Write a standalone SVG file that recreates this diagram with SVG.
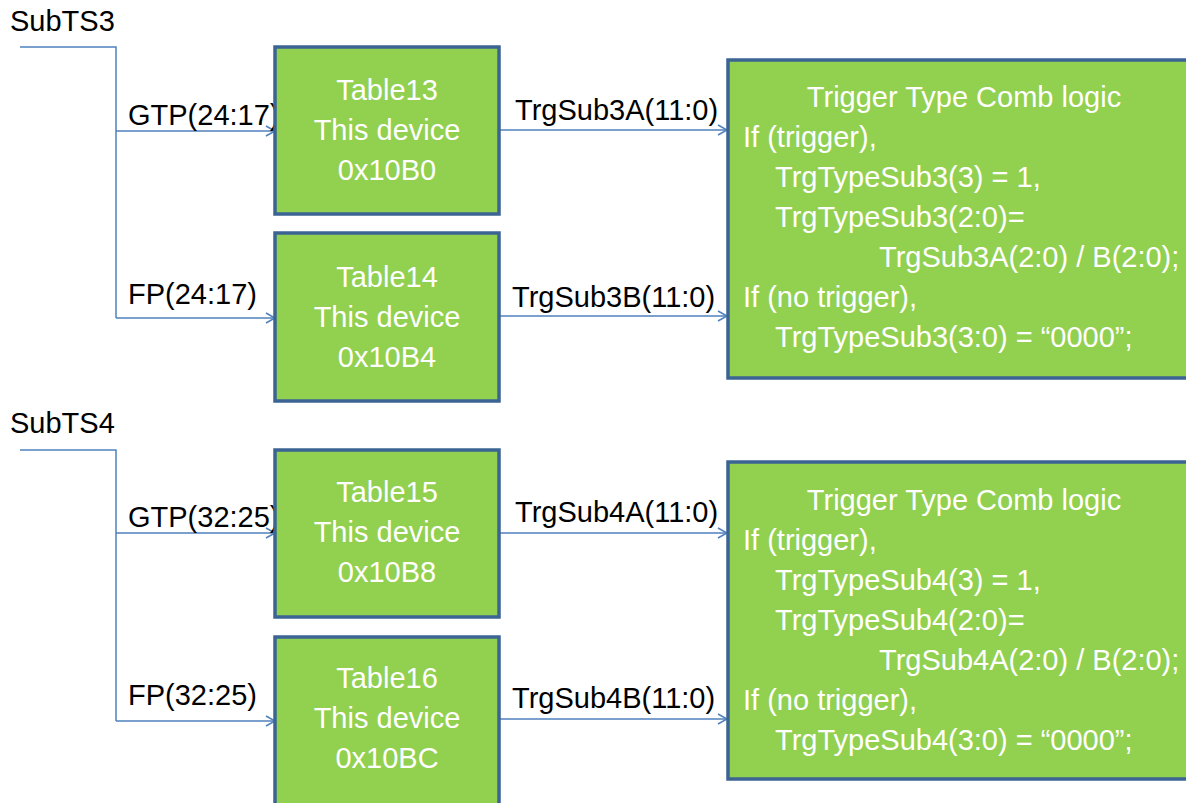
<svg xmlns="http://www.w3.org/2000/svg" width="1186" height="803" viewBox="0 0 1186 803">
<style>
text{font-family:"Liberation Sans",Arial,sans-serif;font-size:29px}
.lbl{fill:#000}
.w{fill:#fff}
.c{text-anchor:middle}
.box{fill:#92D050;stroke:#3B6494;stroke-width:3.5}
.wire{fill:none;stroke:#4F81BD;stroke-width:1.5}
</style>
<defs>
<marker id="ah" markerWidth="12" markerHeight="12" refX="10" refY="6" orient="auto" markerUnits="userSpaceOnUse">
<path d="M1,1 L10,6 L1,11" fill="none" stroke="#4F81BD" stroke-width="1.5"/>
</marker>
</defs>
<rect width="1186" height="803" fill="#fff"/>
<g id="connectors">
<path class="wire" d="M20,47 H116 V318"/>
<path class="wire" d="M116,131 H275" marker-end="url(#ah)"/>
<path class="wire" d="M116,318 H275" marker-end="url(#ah)"/>
<path class="wire" d="M499,130 H727" marker-end="url(#ah)"/>
<path class="wire" d="M499,316 H727" marker-end="url(#ah)"/>
<path class="wire" d="M20,450 H116 V721"/>
<path class="wire" d="M116,533 H275" marker-end="url(#ah)"/>
<path class="wire" d="M116,721 H275" marker-end="url(#ah)"/>
<path class="wire" d="M499,533 H727" marker-end="url(#ah)"/>
<path class="wire" d="M499,719 H727" marker-end="url(#ah)"/>
<text class="lbl" x="10" y="31">SubTS3</text>
<text class="lbl" x="128" y="125">GTP(24:17)</text>
<text class="lbl" x="128" y="304">FP(24:17)</text>
<text class="lbl" x="515" y="120">TrgSub3A(11:0)</text>
<text class="lbl" x="512" y="307">TrgSub3B(11:0)</text>
<text class="lbl" x="10" y="433">SubTS4</text>
<text class="lbl" x="128" y="527">GTP(32:25)</text>
<text class="lbl" x="128" y="705">FP(32:25)</text>
<text class="lbl" x="515" y="522">TrgSub4A(11:0)</text>
<text class="lbl" x="512" y="708">TrgSub4B(11:0)</text>
</g>
<g id="table13">
<rect class="box" x="275" y="47" width="224" height="167"/>
<text class="w c" x="387" y="100">Table13</text>
<text class="w c" x="387" y="140">This device</text>
<text class="w c" x="387" y="180">0x10B0</text>
</g>
<g id="table14">
<rect class="box" x="275" y="233" width="224" height="168"/>
<text class="w c" x="387" y="287">Table14</text>
<text class="w c" x="387" y="327">This device</text>
<text class="w c" x="387" y="367">0x10B4</text>
</g>
<g id="table15">
<rect class="box" x="275" y="450" width="224" height="167"/>
<text class="w c" x="387" y="502">Table15</text>
<text class="w c" x="387" y="542">This device</text>
<text class="w c" x="387" y="582">0x10B8</text>
</g>
<g id="table16">
<rect class="box" x="275" y="637" width="224" height="168"/>
<text class="w c" x="387" y="688">Table16</text>
<text class="w c" x="387" y="728">This device</text>
<text class="w c" x="387" y="768">0x10BC</text>
</g>
<g id="logic3">
<rect class="box" x="728" y="60" width="470" height="318"/>
<text class="w c" x="964" y="107">Trigger Type Comb logic</text>
<text class="w" x="743" y="147">If (trigger),</text>
<text class="w" x="775" y="187">TrgTypeSub3(3) = 1,</text>
<text class="w" x="775" y="227">TrgTypeSub3(2:0)=</text>
<text class="w" x="879" y="267">TrgSub3A(2:0) / B(2:0);</text>
<text class="w" x="743" y="307">If (no trigger),</text>
<text class="w" x="775" y="347">TrgTypeSub3(3:0) = “0000”;</text>
</g>
<g id="logic4">
<rect class="box" x="728" y="462" width="470" height="317"/>
<text class="w c" x="964" y="510">Trigger Type Comb logic</text>
<text class="w" x="743" y="550">If (trigger),</text>
<text class="w" x="775" y="590">TrgTypeSub4(3) = 1,</text>
<text class="w" x="775" y="630">TrgTypeSub4(2:0)=</text>
<text class="w" x="879" y="670">TrgSub4A(2:0) / B(2:0);</text>
<text class="w" x="743" y="710">If (no trigger),</text>
<text class="w" x="775" y="750">TrgTypeSub4(3:0) = “0000”;</text>
</g>
</svg>
